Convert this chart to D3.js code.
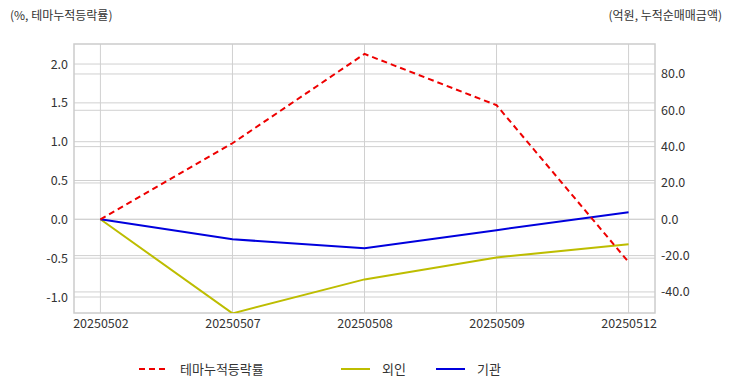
<!DOCTYPE html>
<html><head><meta charset="utf-8">
<script src="https://cdn.jsdelivr.net/npm/d3@7"></script>
<style>
body{margin:0;background:#fff;}
text{font-family:"Noto Sans CJK KR","Noto Sans",sans-serif;}
</style></head>
<body><svg id="c" width="732" height="392"></svg>
<script>
const categories = ["20250502","20250507","20250508","20250509","20250512"];
const themeReturn = [0, 0.98, 2.13, 1.47, -0.55];
const foreignNet = [0, -51.8, -33.1, -21.0, -13.8];
const instNet = [0, -11.0, -16.0, -6.0, 3.9];
const leftTicks = [-1.0,-0.5,0.0,0.5,1.0,1.5,2.0];
const rightTicks = [-40,-20,0,20,40,60,80];
const seriesNames = ["테마누적등락률","외인","기관"];

const svg = d3.select("#c");
const L=74,R=655,T=44,B=313;
const x = d3.scalePoint().domain(categories).range([L,R]).padding(0.2);
const yl = d3.scaleLinear().domain([-1.206,2.258]).range([B,T]);
const yr = d3.scaleLinear().domain([-51.6,96.5]).range([B,T]);
const fmt = d => d.toFixed(1);

svg.append("rect").attr("x",L).attr("y",T).attr("width",R-L).attr("height",B-T).attr("fill","#fff");
const g = svg.append("g");
g.selectAll(".gl").data(leftTicks).join("line").attr("x1",L).attr("x2",R)
 .attr("y1",d=>yl(d)).attr("y2",d=>yl(d)).attr("stroke","#d0d0d0");
g.selectAll(".gr").data(rightTicks).join("line").attr("x1",L).attr("x2",R)
 .attr("y1",d=>yr(d)).attr("y2",d=>yr(d)).attr("stroke","#d0d0d0");
g.selectAll(".gx").data(categories).join("line").attr("x1",d=>x(d)).attr("x2",d=>x(d))
 .attr("y1",T).attr("y2",B).attr("stroke","#d0d0d0");
svg.append("rect").attr("x",L).attr("y",T).attr("width",R-L).attr("height",B-T)
 .attr("fill","none").attr("stroke","#cccccc").attr("stroke-width",1.5);

const axL = svg.append("g").attr("transform",`translate(${L},0)`)
 .call(d3.axisLeft(yl).tickValues(leftTicks).tickFormat(fmt).tickSize(0).tickPadding(6));
const axR = svg.append("g").attr("transform",`translate(${R},0)`)
 .call(d3.axisRight(yr).tickValues(rightTicks).tickFormat(fmt).tickSize(0).tickPadding(6));
const axX = svg.append("g").attr("transform",`translate(0,${B})`)
 .call(d3.axisBottom(x).tickSize(0).tickPadding(6));
[axL,axR,axX].forEach(a=>{a.select(".domain").remove();
 a.selectAll("text").attr("fill","#333").style("font-size","12.5px");});

svg.append("clipPath").attr("id","cp").append("rect")
 .attr("x",L).attr("y",T-2).attr("width",R-L).attr("height",B-T+2);
const lines = svg.append("g").attr("clip-path","url(#cp)");
const lineL = d3.line().x((d,i)=>x(categories[i])).y(d=>yl(d));
const lineR = d3.line().x((d,i)=>x(categories[i])).y(d=>yr(d));
lines.append("path").datum(foreignNet).attr("d",lineR).attr("fill","none").attr("stroke","#bdbd00").attr("stroke-width",2);
lines.append("path").datum(instNet).attr("d",lineR).attr("fill","none").attr("stroke","#0000dd").attr("stroke-width",2);
lines.append("path").datum(themeReturn).attr("d",lineL).attr("fill","none").attr("stroke","#ee0000").attr("stroke-width",2).attr("stroke-dasharray","6,4");

svg.append("text").attr("x",10).attr("y",20).attr("fill","#333").style("font-size","12px").text("(%, 테마누적등락률)");
svg.append("text").attr("x",722).attr("y",20).attr("text-anchor","end").attr("fill","#333").style("font-size","12px").text("(억원, 누적순매매금액)");

const leg = [{n:seriesNames[0],c:"#ee0000",d:"6,4",x:139},{n:seriesNames[1],c:"#bdbd00",d:null,x:341},{n:seriesNames[2],c:"#0000dd",d:null,x:436}];
const lg = svg.append("g");
leg.forEach(o=>{
 lg.append("line").attr("x1",o.x).attr("x2",o.x+29).attr("y1",369).attr("y2",369).attr("stroke",o.c).attr("stroke-width",2).attr("stroke-dasharray",o.d);
 lg.append("text").attr("x",o.x+41).attr("y",374).attr("fill","#333").style("font-size","13px").text(o.n);
});
</script></body></html>
